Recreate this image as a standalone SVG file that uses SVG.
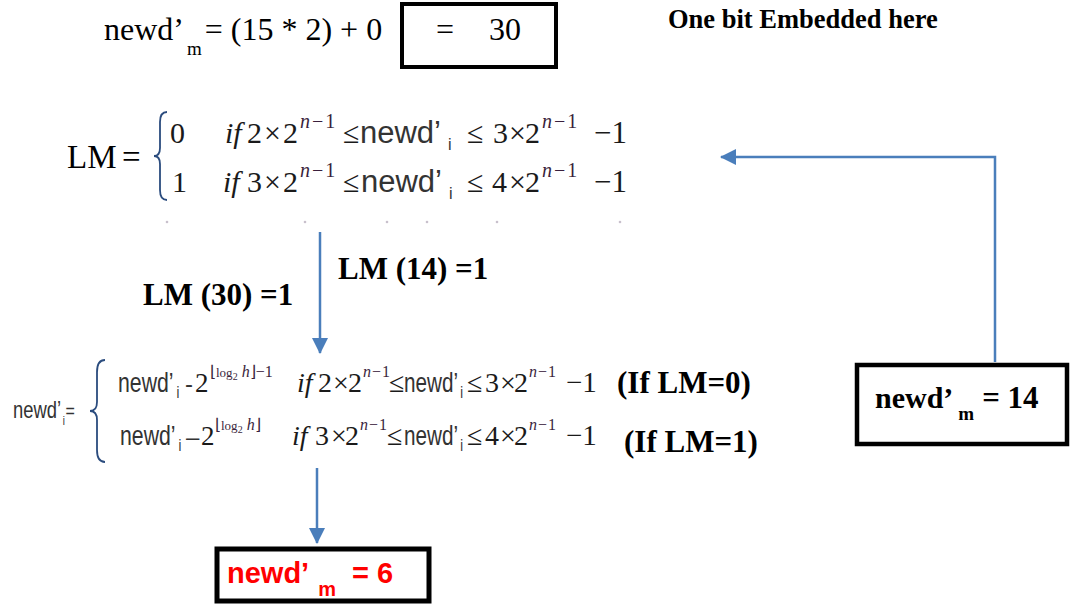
<svg xmlns="http://www.w3.org/2000/svg" width="1071" height="605" viewBox="0 0 1071 605">
<style>
.t{font-family:"Liberation Serif","Times New Roman",serif;fill:#000}
.tb{font-family:"Liberation Serif","Times New Roman",serif;font-weight:bold;fill:#000}
.f{font-family:"Liberation Serif","Times New Roman",serif;fill:#1a1a1a}
.fi{font-family:"Liberation Serif","Times New Roman",serif;font-style:italic;fill:#1a1a1a}
.sup{font-family:"Liberation Serif","Times New Roman",serif;fill:#3a1f3c}
.a{font-family:"Liberation Sans",Arial,sans-serif;fill:#333}
.box{fill:#fff;stroke:#000}
.conn{fill:none;stroke:#4a7ebb;stroke-width:2.5}
.brace{fill:none;stroke:#2b4c7e;stroke-width:1.8}
.dot{fill:#c8c0cc}
.red{font-family:"Liberation Sans",Arial,sans-serif;font-weight:bold;fill:#ff0000}
</style>
<defs>
<marker id="ah" viewBox="0 0 16 16" markerWidth="16" markerHeight="16" refX="15" refY="8" orient="auto" markerUnits="userSpaceOnUse">
<path d="M0,0 L16,8 L0,16 z" fill="#4a7ebb"/>
</marker>
</defs>
<rect width="1071" height="605" fill="#fff"/>

<g id="calc">
<text class="t" x="104" y="40" font-size="32">newd’<tspan font-size="19" dx="3" dy="15">m</tspan><tspan dx="3" dy="-15">= (15 * 2) + 0</tspan></text>
</g>
<g id="result30">
<rect class="box" x="402" y="4" width="154" height="63" stroke-width="4"/>
<text class="t" x="436" y="40" font-size="32">=</text>
<text class="t" x="489" y="40" font-size="32">30</text>
</g>
<g id="note">
<text class="tb" x="668" y="28" font-size="26.5">One bit Embedded here</text>
</g>

<g id="lm-formula">
<text class="t" x="67" y="168" font-size="33">LM</text>
<text class="t" x="122" y="168" font-size="33">=</text>
<path class="brace" d="M167,112 Q160,112 160,122 L160,148 Q160,156 154,156 Q160,156 160,164 L160,190 Q160,200 167,200"/>
<text class="f" x="170" y="143" font-size="30">0</text>
<text class="fi" x="225" y="143" font-size="30">if</text>
<text class="f" x="247" y="143" font-size="30">2</text>
<text class="f" x="264" y="143" font-size="30">×</text>
<text class="f" x="283" y="143" font-size="30">2</text>
<text class="sup" x="300" y="128" font-size="20" letter-spacing="2"><tspan font-style="italic">n</tspan>−1</text>
<text class="f" x="343" y="143" font-size="30">≤</text>
<text class="a" x="360" y="143" font-size="31">newd’<tspan font-size="16" dx="7" dy="7">i</tspan></text>
<text class="f" x="467" y="143" font-size="30">≤</text>
<text class="f" x="493" y="143" font-size="30">3</text>
<text class="f" x="509" y="143" font-size="30">×</text>
<text class="f" x="525" y="143" font-size="30">2</text>
<text class="sup" x="542" y="128" font-size="20" letter-spacing="2"><tspan font-style="italic">n</tspan>−1</text>
<text class="f" x="594" y="143" font-size="31">−1</text>

<text class="f" x="172" y="192" font-size="30">1</text>
<text class="fi" x="223" y="192" font-size="30">if</text>
<text class="f" x="247" y="192" font-size="30">3</text>
<text class="f" x="264" y="192" font-size="30">×</text>
<text class="f" x="283" y="192" font-size="30">2</text>
<text class="sup" x="300" y="177" font-size="20" letter-spacing="2"><tspan font-style="italic">n</tspan>−1</text>
<text class="f" x="343" y="192" font-size="30">≤</text>
<text class="a" x="361" y="192" font-size="31">newd’<tspan font-size="16" dx="7" dy="7">i</tspan></text>
<text class="f" x="467" y="192" font-size="30">≤</text>
<text class="f" x="492" y="192" font-size="30">4</text>
<text class="f" x="509" y="192" font-size="30">×</text>
<text class="f" x="525" y="192" font-size="30">2</text>
<text class="sup" x="542" y="177" font-size="20" letter-spacing="2"><tspan font-style="italic">n</tspan>−1</text>
<text class="f" x="594" y="192" font-size="31">−1</text>
<circle class="dot" cx="167" cy="222" r="1.3"/>
<circle class="dot" cx="305" cy="222" r="1.3"/>
<circle class="dot" cx="387" cy="222" r="1.3"/>
<circle class="dot" cx="427" cy="222" r="1.3"/>
<circle class="dot" cx="497" cy="222" r="1.3"/>
<circle class="dot" cx="620" cy="222" r="1.3"/>
</g>

<g id="labels">
<text class="tb" x="338" y="279" font-size="31">LM (14) =1</text>
<text class="tb" x="143" y="305" font-size="31">LM (30) =1</text>
</g>

<g id="newd-formula">
<text class="a" transform="translate(13,418) scale(0.8,1)" font-size="23" fill="#555">newd’<tspan font-size="12" dx="2" dy="7">i</tspan><tspan font-size="20" dx="1" dy="-7">=</tspan></text>
<path class="brace" d="M105,360 Q97,360 97,372 L97,402 Q97,411 90,411 Q97,411 97,420 L97,450 Q97,462 105,462"/>

<text class="a" transform="translate(118,392) scale(0.76,1)" font-size="28">newd’<tspan font-size="17" dx="4" dy="6">i</tspan></text>
<text class="a" x="185" y="392" font-size="24">-</text>
<text class="f" x="195" y="392" font-size="27">2</text>
<text class="sup" x="210" y="377" font-size="16">⌊<tspan font-size="13">log</tspan><tspan font-size="10" dy="3">2</tspan><tspan dy="-3" font-style="italic"> h</tspan>⌋−1</text>
<text class="fi" x="297" y="392" font-size="28">if</text>
<text class="f" x="318" y="392" font-size="28">2</text>
<text class="f" x="333" y="392" font-size="28">×</text>
<text class="f" x="348" y="392" font-size="28">2</text>
<text class="sup" x="363" y="377" font-size="16" letter-spacing="1"><tspan font-style="italic">n</tspan>−1</text>
<text class="f" x="389" y="392" font-size="28">≤</text>
<text class="a" transform="translate(404,392) scale(0.74,1)" font-size="28">newd’<tspan font-size="17" dx="3" dy="6">i</tspan></text>
<text class="f" x="467" y="392" font-size="28">≤</text>
<text class="f" x="485" y="392" font-size="28">3</text>
<text class="f" x="500" y="392" font-size="28">×</text>
<text class="f" x="514" y="392" font-size="28">2</text>
<text class="sup" x="529" y="377" font-size="16" letter-spacing="1"><tspan font-style="italic">n</tspan>−1</text>
<text class="f" x="566" y="392" font-size="29">−1</text>
<text class="tb" x="617" y="393" font-size="31">(If LM=0)</text>

<text class="a" transform="translate(120,445) scale(0.76,1)" font-size="28">newd’<tspan font-size="17" dx="4" dy="6">i</tspan></text>
<text class="a" x="186" y="445" font-size="24">–</text>
<text class="f" x="201" y="445" font-size="27">2</text>
<text class="sup" x="215" y="430" font-size="16">⌊<tspan font-size="13">log</tspan><tspan font-size="10" dy="3">2</tspan><tspan dy="-3" font-style="italic"> h</tspan>⌋</text>
<text class="fi" x="292" y="445" font-size="28">if</text>
<text class="f" x="315" y="445" font-size="28">3</text>
<text class="f" x="331" y="445" font-size="28">×</text>
<text class="f" x="345" y="445" font-size="28">2</text>
<text class="sup" x="360" y="430" font-size="16" letter-spacing="1"><tspan font-style="italic">n</tspan>−1</text>
<text class="f" x="387" y="445" font-size="28">≤</text>
<text class="a" transform="translate(404,445) scale(0.74,1)" font-size="28">newd’<tspan font-size="17" dx="3" dy="6">i</tspan></text>
<text class="f" x="467" y="445" font-size="28">≤</text>
<text class="f" x="485" y="445" font-size="28">4</text>
<text class="f" x="500" y="445" font-size="28">×</text>
<text class="f" x="514" y="445" font-size="28">2</text>
<text class="sup" x="529" y="430" font-size="16" letter-spacing="1"><tspan font-style="italic">n</tspan>−1</text>
<text class="f" x="566" y="445" font-size="29">−1</text>
<text class="tb" x="624" y="452" font-size="31">(If LM=1)</text>
</g>

<g id="result14">
<rect class="box" x="857" y="365" width="210" height="79" stroke-width="4.5"/>
<text class="tb" x="875" y="408" font-size="30">newd’<tspan font-size="19" dx="5" dy="12">m</tspan><tspan font-size="31" dx="8" dy="-12">= 14</tspan></text>
</g>

<g id="result6">
<rect class="box" x="217" y="549" width="212" height="52" stroke-width="5"/>
<text class="red" x="227" y="583" font-size="29">newd’<tspan font-size="20" dx="9" dy="13">m</tspan><tspan dx="16" dy="-13">= 6</tspan></text>
</g>

<g id="connectors">
<line class="conn" x1="320" y1="232" x2="320" y2="353" marker-end="url(#ah)"/>
<line class="conn" x1="317" y1="468" x2="317" y2="543" marker-end="url(#ah)"/>
<polyline class="conn" points="995,362 995,157 721,157" marker-end="url(#ah)"/>
</g>
</svg>
